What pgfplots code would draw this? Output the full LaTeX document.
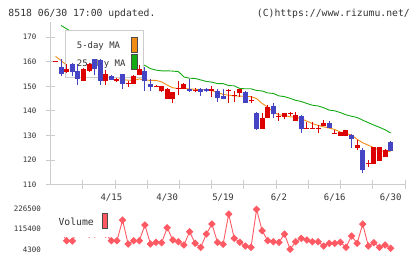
\documentclass[border=0pt]{standalone}
\usepackage{pgfplots}
\pgfplotsset{compat=1.18}
\usepackage{pgfplotstable}
\usepackage{fontspec}
\newfontfamily\pix{DejaVu Sans Mono}
\definecolor{cRed}{RGB}{221,0,0}
\definecolor{cBlue}{RGB}{68,68,196}
\definecolor{maO}{RGB}{240,140,20}
\definecolor{maG}{RGB}{20,170,20}
\definecolor{volC}{RGB}{255,90,100}
\definecolor{axG}{RGB}{204,204,204}
\definecolor{txt}{RGB}{51,51,51}

\pgfplotstableread{
i o h l c
0 159.8 160.2 159.8 160.2
2 156 159 155.5 157.1
5 152 157.5 152 157
6 156.3 159.5 156 159.2
9 152 156.5 150.6 155
11 152 153.2 151.8 153
13 150.8 152.3 149.8 151.2
14 151 154.5 151 154.3
15 154.7 158.5 154.5 157
18 149.8 150.5 149.6 150.2
19 147.9 150.2 147.5 150
20 145 149.2 145 149
21 145 147.7 143.3 147.5
22 148.8 152.2 146.5 149.2
23 149 151.2 148.8 151
25 148.3 149.5 147.5 148.7
28 148 150.3 145.5 149
31 148 149 143.3 148.4
32 145.9 148.1 143.7 146.3
33 147.2 149.1 145.8 148.9
35 143.9 145.9 143.1 144.3
37 132.7 139 132.7 137
38 137 142.3 137 141.5
40 137.5 139 136 137.9
41 137.7 139.3 136.5 139.1
42 138.9 139.5 138 139.3
43 136 139.6 136 138.4
45 132.7 135.5 132.7 133.1
46 132.7 135.5 132.7 133.1
47 132.7 134.2 130.8 133.1
48 133.9 136.2 133.9 135.2
50 130.7 132.2 130.7 131.1
51 129.9 131.5 129.9 131.3
52 129.9 132.3 129.9 132.2
54 125 128 124 126.1
56 118.5 119.9 117.2 118.9
57 118.2 125.4 118.2 125.2
58 119.6 125.4 119.6 125.2
59 121 124.3 121 124.1
}\redC

\pgfplotstableread{
i o h l c
1 157.8 161 154 155
3 159.2 159.5 154 156
4 156.3 159 150.6 152.9
7 161.1 161.3 154.5 157
8 160.8 161 150.6 152
10 154.3 154.5 152.5 152.7
12 155 155.2 148.9 151
16 156.3 157.7 147.9 152
17 150.9 153 148 149.9
24 149 153 147.8 148
26 149 149.2 146 147.5
27 149 149.2 147.5 147.9
29 148.2 149 143.7 145.2
30 146.1 148.8 144.8 145
34 147.5 148.2 143 143.1
36 139.1 139.7 132 132.7
39 142 143 136.9 138.8
44 138 138.3 130.9 132.5
49 135 136 132.9 132.9
53 130.2 130.4 124.8 128.6
55 124.1 124.8 114.8 115.9
60 127.5 127.7 123.8 123.8
}\blueC

\pgfplotstableread{
i v
0 162.2
1 160.5
2 158.5
3 158
4 156.2
5 155.6
6 156.4
7 156.4
8 155.6
9 156
10 155.2
11 153.9
12 152.7
13 152.5
14 152.4
15 153
16 152.6
17 152.4
18 152.4
19 151.8
20 150.5
21 149.4
22 149.1
23 149.2
24 148.9
25 148.8
26 148.7
27 148.5
28 148.2
29 147.6
30 146.7
31 146.4
32 146.1
33 146
34 145.9
35 145.8
36 145
37 143
38 141.5
39 139.5
40 138.4
41 138.1
42 137.6
43 137.4
44 136.8
45 135.8
46 134.8
47 134.1
48 133.5
49 133
50 132.4
51 131.4
52 130.7
53 130.2
54 128.4
55 127
56 126
57 125
58 123.8
59 123.5
60 123.4
}\maFive

\pgfplotstableread{
i v
1 174.8
2 173.4
3 172
4 171
5 170
6 169
7 168
8 167
9 166
10 165
11 164
12 163
13 162
14 161
15 159.5
16 158.5
17 157.2
18 156.6
19 156.3
20 156.3
21 156.2
22 156
23 153.8
24 153.3
25 153.2
26 152.6
27 152
28 151.7
29 151.1
30 151.1
31 150.3
32 150.2
33 149.1
34 149
35 149
36 148.3
37 148.1
38 147.3
39 147.1
40 146.1
41 145.8
42 145.1
43 144.3
44 143.8
45 143
46 142.3
47 142
48 141.3
49 140.3
50 140
51 139.3
52 138.4
53 137.8
54 137.3
55 136.2
56 135.2
57 134.2
58 133.3
59 132.3
60 131
}\maTwentyFive

\pgfplotstableread{
i v
0 120000
1 100000
2 51600
3 50000
4 110000
5 120000
6 88000
7 88000
8 130000
9 88000
10 51600
11 51600
12 165450
13 33450
14 51600
15 51600
16 138000
17 33450
18 42800
19 40600
20 123100
21 55450
22 46100
23 28000
24 101100
25 37300
26 15300
27 88450
28 143450
29 42800
30 31800
31 198450
32 64800
33 42800
34 22450
35 15300
36 224300
37 106600
38 51600
39 46100
40 42800
41 88450
42 4300
43 46100
44 64800
45 55450
46 46100
47 46100
48 22450
49 37300
50 37300
51 42800
52 15300
53 77450
54 37300
55 143450
56 22450
57 40600
58 15300
59 28000
60 9800
}\volT

\begin{document}
\begin{tikzpicture}
\useasboundingbox (0,0) rectangle (420bp,259bp);
\node[anchor=west, inner sep=0pt, text=txt, font=\pix\fontsize{9.8}{10}\selectfont] at (8.3bp,245.5bp) {8518 06/30 17:00 updated.};
\node[anchor=east, inner sep=0pt, text=txt, font=\pix\fontsize{9.8}{10}\selectfont] at (410bp,245.5bp) {(C)https://www.rizumu.net/};

\begin{axis}[
  at={(50.5bp,74.5bp)}, anchor=south west,
  scale only axis, width=354.5bp, height=162.5bp,
  xmin=-0.9, xmax=62.57, ymin=110, ymax=176.2,
  axis lines=left,
  axis line style={-, draw=axG, line width=0.8bp},
  xtick={4.87,10.64,16.41,22.18,27.95,33.72,39.49,45.26,51.03,56.80,62.57},
  xticklabels={},
  extra x ticks={10,20,30,40,50,60},
  extra x tick labels={4/15,4/30,5/19,6/2,6/16,6/30},
  extra x tick style={major tick length=0pt},
  ytick={110,120,130,140,150,160,170},
  tick align=center, major tick length=9bp,
  tick style={draw=axG, line width=0.8bp},
  /pgf/number format/assume math mode=true,
  xticklabel style={font=\pix\fontsize{9}{10}\selectfont, text=txt, yshift=-6bp},
  yticklabel style={font=\pix\fontsize{7.5}{8}\selectfont, text=txt, xshift=-6bp},
]
\addplot[maO, line width=0.9bp, mark=none] table[x=i, y=v] {\maFive};
\addplot[maG, line width=0.9bp, mark=none] table[x=i, y=v] {\maTwentyFive};

\draw[axG, fill=white, line width=0.8bp] (rel axis cs:0.0409,0.951) rectangle (rel axis cs:0.2618,0.660);
\node[anchor=west, inner sep=0pt, text=txt, font=\pix\fontsize{9}{10}\selectfont] at (rel axis cs:0.0739,0.852) {5-day MA};
\node[anchor=west, inner sep=0pt, text=txt, font=\pix\fontsize{9}{10}\selectfont] at (rel axis cs:0.0739,0.743) {25-day MA};
\draw[black!70, fill=maO, line width=0.7bp] (rel axis cs:0.2271,0.906) rectangle (rel axis cs:0.2448,0.814);
\draw[black!70, fill=maG, line width=0.7bp] (rel axis cs:0.2271,0.799) rectangle (rel axis cs:0.2448,0.709);

\addplot[draw=none, mark=none, error bars/.cd, y dir=plus, y explicit, error mark=none,
  error bar style={draw=cRed, line width=1bp}] table[x=i, y=l, y error plus expr=\thisrow{h}-\thisrow{l}] {\redC};
\addplot[draw=none, mark=none, error bars/.cd, y dir=plus, y explicit, error mark=none,
  error bar style={draw=cRed, line width=5bp}] table[x=i, y=o, y error plus expr=\thisrow{c}-\thisrow{o}] {\redC};
\addplot[draw=none, mark=none, error bars/.cd, y dir=plus, y explicit, error mark=none,
  error bar style={draw=cBlue, line width=1bp}] table[x=i, y=l, y error plus expr=\thisrow{h}-\thisrow{l}] {\blueC};
\addplot[draw=none, mark=none, error bars/.cd, y dir=plus, y explicit, error mark=none,
  error bar style={draw=cBlue, line width=5bp}] table[x=i, y=c, y error plus expr=\thisrow{o}-\thisrow{c}] {\blueC};
\end{axis}

\begin{axis}[
  at={(50.5bp,9.7bp)}, anchor=south west,
  scale only axis, width=354.5bp, height=40.3bp,
  xmin=-0.9, xmax=62.57, ymin=4300, ymax=226500,
  clip=false,
  axis lines=left,
  axis line style={draw=none},
  tick style={draw=none},
  xtick=\empty,
  ytick={4300,115400,226500},
  scaled y ticks=false,
  /pgf/number format/.cd, fixed, 1000 sep={}, assume math mode=true, /pgfplots/.cd,
  yticklabel style={font=\pix\fontsize{7.5}{8}\selectfont, text=txt, xshift=-4bp},
]
\addplot[volC, line width=0.9bp, mark=square*, mark size=2.2bp, mark options={rotate=45, fill=volC, draw=volC}] table[x=i, y=v] {\volT};
\end{axis}
\fill[white] (50bp,22bp) rectangle (109.5bp,54bp);
\node[anchor=west, inner sep=0pt, text=txt, font=\pix\fontsize{9.8}{10}\selectfont] at (58.3bp,36.7bp) {Volume};
\draw[black!70, fill=volC, line width=0.7bp] (102bp,30.7bp) rectangle (107.5bp,45.7bp);
\end{tikzpicture}
\end{document}
